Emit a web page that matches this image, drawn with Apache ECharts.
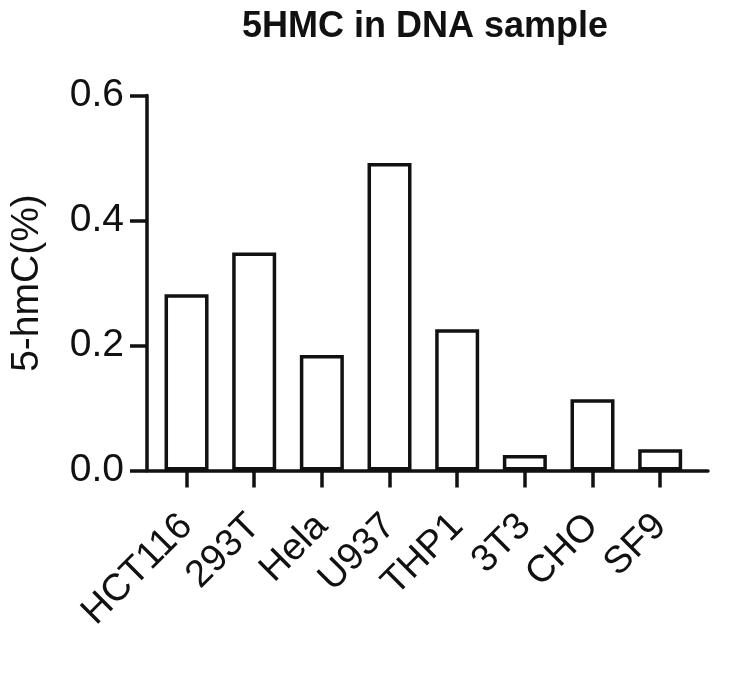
<!DOCTYPE html>
<html>
<head>
<meta charset="utf-8">
<script src="https://cdn.jsdelivr.net/npm/echarts@6/dist/echarts.min.js"></script>
<style>
html,body{margin:0;padding:0;background:#fff;}
#c{width:750px;height:684px;}
</style>
</head>
<body>
<div id="c"></div>
<script>
const categories = ['HCT116', '293T', 'Hela', 'U937', 'THP1', '3T3', 'CHO', 'SF9'];
const values = [0.282, 0.349, 0.185, 0.492, 0.226, 0.025, 0.114, 0.034];
const yTicks = [0, 0.2, 0.4, 0.6];
const titleText = '5HMC in DNA sample';
const yName = '5-hmC(%)';

const FONT = "'Liberation Sans', Arial, Helvetica, sans-serif";
const chart = echarts.init(document.getElementById('c'));
const gTop = 95.5, gBottom = 213.5;

chart.setOption({
  backgroundColor: '#fff',
  animation: false,
  title: {
    text: titleText,
    left: 237, top: 4,
    textStyle: {fontFamily: FONT, fontWeight: 'bold', fontSize: 36, color: '#111'}
  },
  grid: [
    {left: 142, right: 42, top: gTop, bottom: gBottom, containLabel: false},
    {left: 152.7, right: 56, top: gTop, bottom: gBottom, containLabel: false}
  ],
  xAxis: [
    {gridIndex: 0, type: 'value', min: 0, max: 1,
     axisLine: {show: true, onZero: false, lineStyle: {color: '#111', width: 3.5}},
     axisTick: {show: false}, axisLabel: {show: false}, splitLine: {show: false}},
    {gridIndex: 1, type: 'category', data: categories,
     axisLine: {show: false},
     axisTick: {show: true, alignWithLabel: true, length: 17, lineStyle: {color: '#111', width: 3.5}},
     axisLabel: {rotate: 45, margin: 50, fontFamily: FONT, fontSize: 38, color: '#111', interval: 0},
     splitLine: {show: false}}
  ],
  yAxis: [
    {gridIndex: 0, type: 'value', min: 0, max: 0.6, interval: 0.2,
     name: yName, nameLocation: 'middle', nameGap: 100,
     nameTextStyle: {fontFamily: FONT, fontSize: 39, color: '#111'},
     axisLine: {show: true, lineStyle: {color: '#111', width: 3.5}},
     axisTick: {show: true, length: 17, lineStyle: {color: '#111', width: 3.5}},
     axisLabel: {margin: 23, fontFamily: FONT, fontSize: 39, color: '#111',
       formatter: v => yTicks.includes(Math.round(v * 10) / 10) ? v.toFixed(1) : ''},
     splitLine: {show: false}},
    {gridIndex: 1, type: 'value', min: 0, max: 0.6, show: false, splitLine: {show: false}}
  ],
  series: [{
    type: 'bar', xAxisIndex: 1, yAxisIndex: 1,
    data: values, barWidth: 44,
    itemStyle: {color: '#fff', borderColor: '#111', borderWidth: 3.5}
  }]
});
</script>
</body>
</html>
